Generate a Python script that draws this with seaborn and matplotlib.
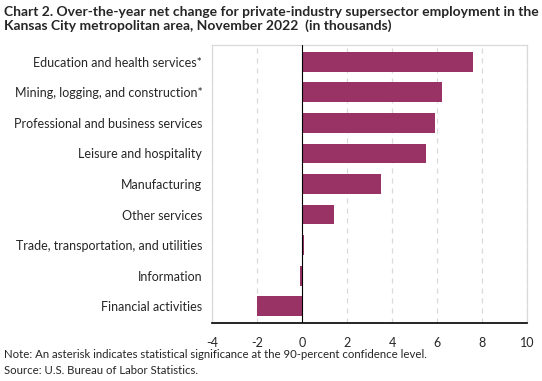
import matplotlib
matplotlib.use("Agg")
import matplotlib.pyplot as plt
import seaborn as sns
import pandas as pd

categories = [
    "Education and health services*",
    "Mining, logging, and construction*",
    "Professional and business services",
    "Leisure and hospitality",
    "Manufacturing",
    "Other services",
    "Trade, transportation, and utilities",
    "Information",
    "Financial activities",
]
net_change = [7.6, 6.2, 5.9, 5.5, 3.5, 1.4, 0.1, -0.1, -2.0]
x_ticks = [-4, -2, 0, 2, 4, 6, 8, 10]

df = pd.DataFrame({"sector": categories, "change": net_change})

sns.set_style("white")
plt.rcParams["font.family"] = ["Lato", "DejaVu Sans"]

fig = plt.figure(figsize=(5.42, 3.81), dpi=100)
ax = fig.add_axes([212 / 542, 1 - 323 / 381, 315 / 542, 278 / 381])

sns.barplot(data=df, x="change", y="sector", color="#993366", saturation=1,
            width=0.65, orient="h", ax=ax, linewidth=0, zorder=2)

ax.set_xlim(-4, 10)
ax.set_xticks(x_ticks)
ax.set_xticklabels([str(t) for t in x_ticks], fontsize=9)
ax.set_ylim(len(categories) - 0.45, -0.55)
ax.set_xlabel("")
ax.set_ylabel("")
ax.tick_params(axis="y", length=0, labelsize=9, pad=7)
ax.tick_params(axis="x", direction="out", length=4, width=1, color="black", pad=6)

for t in x_ticks:
    if t != 0:
        ax.axvline(t, color="#d9d9d9", lw=0.9, ls=(0, (4, 4)), zorder=0)
# zero line on top of the bars, thin so the tiny bars still show
ax.axvline(0, color="black", lw=0.8, zorder=3)

for side in ["top", "left", "right"]:
    ax.spines[side].set_visible(True)
    ax.spines[side].set_color("#d9d9d9")
    ax.spines[side].set_linewidth(0.9)
ax.spines["bottom"].set_color("black")
ax.spines["bottom"].set_linewidth(1.2)

fig.text(0.008, 0.985,
         "Chart 2. Over-the-year net change for private-industry supersector employment in the\n"
         "Kansas City metropolitan area, November 2022  (in thousands)",
         fontsize=10, fontweight="bold", va="top", ha="left", linespacing=1.2)
fig.text(0.008, 1 - 355 / 381,
         "Note: An asterisk indicates statistical significance at the 90-percent confidence level.",
         fontsize=8.2, va="center", ha="left")
fig.text(0.008, 1 - 370 / 381, "Source: U.S. Bureau of Labor Statistics.",
         fontsize=8.2, va="center", ha="left")

fig.savefig("out.png", dpi=100)
